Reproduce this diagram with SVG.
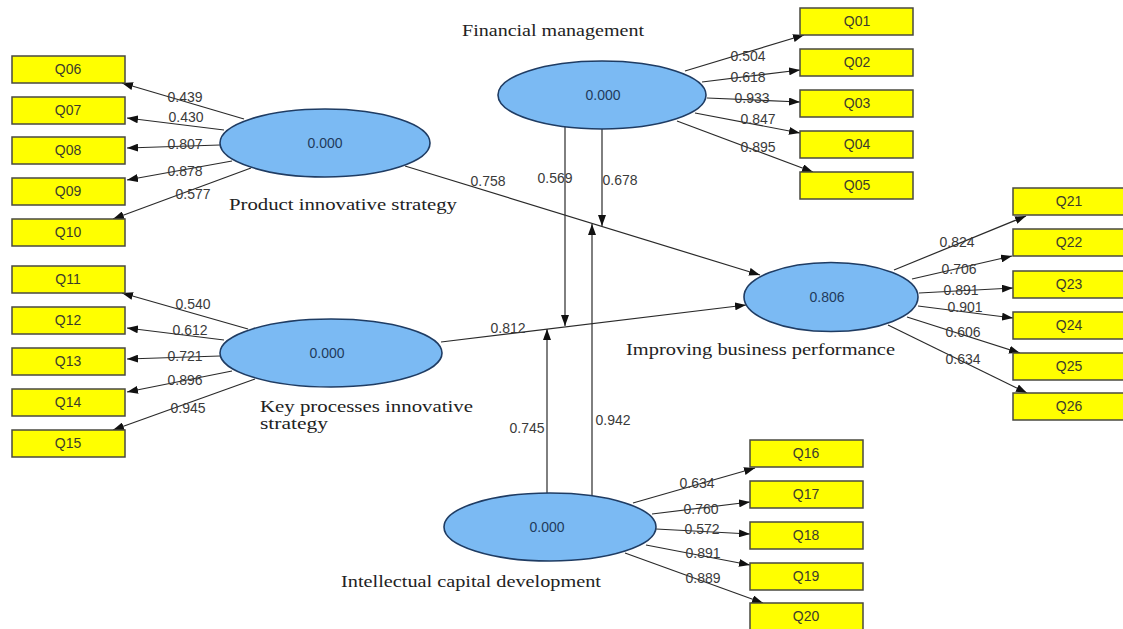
<svg xmlns="http://www.w3.org/2000/svg" width="1123" height="629" viewBox="0 0 1123 629">
<style>
.box{fill:#ffff00;stroke:#4a4a40;stroke-width:1.5}
.ql{font-family:"Liberation Sans",Arial,sans-serif;font-size:14px;fill:#3c3c2c;text-anchor:middle}
.ell{fill:#7bbaf3;stroke:#1f3c63;stroke-width:1.6}
.ev{font-family:"Liberation Sans",Arial,sans-serif;font-size:14px;fill:#1f3a5c;text-anchor:middle}
.nm{font-family:"Liberation Serif","Times New Roman",serif;font-size:16px;fill:#222}
.w{font-family:"Liberation Sans",Arial,sans-serif;font-size:14px;fill:#3a3a3a;text-anchor:middle}
.ln{stroke:#2a2a2a;stroke-width:1.2;fill:none;marker-end:url(#ah)}
</style>
<defs>
<marker id="ah" markerUnits="userSpaceOnUse" markerWidth="11" markerHeight="8" refX="11" refY="4" orient="auto">
<path d="M0,0 L11,4 L0,8 z" fill="#111"/>
</marker>
</defs>
<rect width="1123" height="629" fill="#ffffff"/>

<g id="connectors">
<!-- structural -->
<line class="ln" x1="405" y1="166" x2="760" y2="275"/>
<line class="ln" x1="441" y1="342" x2="746" y2="305"/>
<line class="ln" x1="565" y1="127" x2="565" y2="326"/>
<line class="ln" x1="602" y1="129" x2="602" y2="226"/>
<line class="ln" x1="547" y1="493" x2="547" y2="329"/>
<line class="ln" x1="592" y1="496" x2="592" y2="224"/>
<!-- product indicators -->
<line class="ln" x1="244" y1="119" x2="122" y2="83"/>
<line class="ln" x1="224" y1="130" x2="127" y2="118"/>
<line class="ln" x1="220" y1="145" x2="127" y2="148"/>
<line class="ln" x1="232" y1="161" x2="127" y2="180"/>
<line class="ln" x1="251" y1="168" x2="113" y2="219"/>
<!-- key indicators -->
<line class="ln" x1="248" y1="329" x2="122" y2="293"/>
<line class="ln" x1="224" y1="340" x2="127" y2="328"/>
<line class="ln" x1="220" y1="356" x2="127" y2="359"/>
<line class="ln" x1="232" y1="371" x2="127" y2="392"/>
<line class="ln" x1="255" y1="379" x2="113" y2="430"/>
<!-- financial indicators -->
<line class="ln" x1="685" y1="71" x2="804" y2="35"/>
<line class="ln" x1="702" y1="82" x2="800" y2="70"/>
<line class="ln" x1="707" y1="98" x2="800" y2="102"/>
<line class="ln" x1="695" y1="113" x2="800" y2="133"/>
<line class="ln" x1="677" y1="121" x2="813" y2="172"/>
<!-- improving indicators -->
<line class="ln" x1="894" y1="270" x2="1026" y2="216"/>
<line class="ln" x1="912" y1="279" x2="1012" y2="256"/>
<line class="ln" x1="919" y1="293" x2="1013" y2="288"/>
<line class="ln" x1="918" y1="306" x2="1013" y2="318"/>
<line class="ln" x1="907" y1="317" x2="1020" y2="353"/>
<line class="ln" x1="888" y1="325" x2="1027" y2="393"/>
<!-- intellectual indicators -->
<line class="ln" x1="633" y1="503" x2="755" y2="468"/>
<line class="ln" x1="652" y1="514" x2="750" y2="502"/>
<line class="ln" x1="656" y1="529" x2="750" y2="534"/>
<line class="ln" x1="646" y1="545" x2="750" y2="565"/>
<line class="ln" x1="625" y1="553" x2="763" y2="603"/>
<!-- weights -->
<text class="w" x="488" y="186">0.758</text>
<text class="w" x="508" y="333">0.812</text>
<text class="w" x="555" y="183">0.569</text>
<text class="w" x="620" y="185">0.678</text>
<text class="w" x="527" y="433">0.745</text>
<text class="w" x="613" y="425">0.942</text>
<text class="w" x="185" y="102">0.439</text>
<text class="w" x="186" y="122">0.430</text>
<text class="w" x="185" y="149">0.807</text>
<text class="w" x="185" y="176">0.878</text>
<text class="w" x="193" y="199">0.577</text>
<text class="w" x="193" y="309">0.540</text>
<text class="w" x="190" y="335">0.612</text>
<text class="w" x="185" y="361">0.721</text>
<text class="w" x="185" y="385">0.896</text>
<text class="w" x="188" y="413">0.945</text>
<text class="w" x="748" y="61">0.504</text>
<text class="w" x="748" y="82">0.618</text>
<text class="w" x="752" y="103">0.933</text>
<text class="w" x="758" y="124">0.847</text>
<text class="w" x="758" y="152">0.895</text>
<text class="w" x="957" y="247">0.824</text>
<text class="w" x="959" y="274">0.706</text>
<text class="w" x="961" y="295">0.891</text>
<text class="w" x="965" y="312">0.901</text>
<text class="w" x="963" y="337">0.606</text>
<text class="w" x="963" y="364">0.634</text>
<text class="w" x="697" y="488">0.634</text>
<text class="w" x="701" y="514">0.760</text>
<text class="w" x="702" y="534">0.572</text>
<text class="w" x="703" y="558">0.891</text>
<text class="w" x="703" y="583">0.889</text>
</g>

<g id="financial">
<ellipse class="ell" cx="602" cy="95" rx="104" ry="34"/>
<text class="ev" x="603" y="100">0.000</text>
<text class="nm" x="462" y="36" textLength="182" lengthAdjust="spacingAndGlyphs">Financial management</text>
</g>
<g id="product">
<ellipse class="ell" cx="325" cy="143" rx="105" ry="34"/>
<text class="ev" x="325" y="148">0.000</text>
<text class="nm" x="229" y="210" textLength="228" lengthAdjust="spacingAndGlyphs">Product innovative strategy</text>
</g>
<g id="keyprocesses">
<ellipse class="ell" cx="331" cy="353" rx="111" ry="34"/>
<text class="ev" x="327" y="358">0.000</text>
<text class="nm" x="260" y="412" textLength="213" lengthAdjust="spacingAndGlyphs">Key processes innovative</text>
<text class="nm" x="260" y="429" textLength="68" lengthAdjust="spacingAndGlyphs">strategy</text>
</g>
<g id="improving">
<ellipse class="ell" cx="831" cy="297" rx="87" ry="34.5"/>
<text class="ev" x="827" y="302">0.806</text>
<text class="nm" x="626" y="355" textLength="269" lengthAdjust="spacingAndGlyphs">Improving business performance</text>
</g>
<g id="intellectual">
<ellipse class="ell" cx="550" cy="527" rx="106" ry="34"/>
<text class="ev" x="547" y="532">0.000</text>
<text class="nm" x="341" y="587" textLength="260" lengthAdjust="spacingAndGlyphs">Intellectual capital development</text>
</g>

<g id="Q06"><rect class="box" x="12" y="56" width="113" height="27"/><text class="ql" x="68" y="74">Q06</text></g>
<g id="Q07"><rect class="box" x="12" y="97" width="113" height="27"/><text class="ql" x="68" y="115">Q07</text></g>
<g id="Q08"><rect class="box" x="12" y="137" width="113" height="27"/><text class="ql" x="68" y="155">Q08</text></g>
<g id="Q09"><rect class="box" x="12" y="178" width="113" height="27"/><text class="ql" x="68" y="196">Q09</text></g>
<g id="Q10"><rect class="box" x="12" y="219" width="113" height="27"/><text class="ql" x="68" y="237">Q10</text></g>
<g id="Q11"><rect class="box" x="12" y="266" width="113" height="27"/><text class="ql" x="68" y="284">Q11</text></g>
<g id="Q12"><rect class="box" x="12" y="307" width="113" height="27"/><text class="ql" x="68" y="325">Q12</text></g>
<g id="Q13"><rect class="box" x="12" y="348" width="113" height="27"/><text class="ql" x="68" y="366">Q13</text></g>
<g id="Q14"><rect class="box" x="12" y="389" width="113" height="27"/><text class="ql" x="68" y="407">Q14</text></g>
<g id="Q15"><rect class="box" x="12" y="430" width="113" height="27"/><text class="ql" x="68" y="448">Q15</text></g>
<g id="Q01"><rect class="box" x="800" y="8" width="113" height="27"/><text class="ql" x="857" y="26">Q01</text></g>
<g id="Q02"><rect class="box" x="800" y="49" width="113" height="27"/><text class="ql" x="857" y="67">Q02</text></g>
<g id="Q03"><rect class="box" x="800" y="90" width="113" height="27"/><text class="ql" x="857" y="108">Q03</text></g>
<g id="Q04"><rect class="box" x="800" y="131" width="113" height="27"/><text class="ql" x="857" y="149">Q04</text></g>
<g id="Q05"><rect class="box" x="800" y="172" width="113" height="27"/><text class="ql" x="857" y="190">Q05</text></g>
<g id="Q21"><rect class="box" x="1013" y="188" width="113" height="27"/><text class="ql" x="1069" y="206">Q21</text></g>
<g id="Q22"><rect class="box" x="1013" y="229" width="113" height="27"/><text class="ql" x="1069" y="247">Q22</text></g>
<g id="Q23"><rect class="box" x="1013" y="271" width="113" height="27"/><text class="ql" x="1069" y="289">Q23</text></g>
<g id="Q24"><rect class="box" x="1013" y="312" width="113" height="27"/><text class="ql" x="1069" y="330">Q24</text></g>
<g id="Q25"><rect class="box" x="1013" y="353" width="113" height="27"/><text class="ql" x="1069" y="371">Q25</text></g>
<g id="Q26"><rect class="box" x="1013" y="393" width="113" height="27"/><text class="ql" x="1069" y="411">Q26</text></g>
<g id="Q16"><rect class="box" x="750" y="440" width="113" height="27"/><text class="ql" x="806" y="458">Q16</text></g>
<g id="Q17"><rect class="box" x="750" y="481" width="113" height="27"/><text class="ql" x="806" y="499">Q17</text></g>
<g id="Q18"><rect class="box" x="750" y="522" width="113" height="27"/><text class="ql" x="806" y="540">Q18</text></g>
<g id="Q19"><rect class="box" x="750" y="563" width="113" height="27"/><text class="ql" x="806" y="581">Q19</text></g>
<g id="Q20"><rect class="box" x="750" y="603" width="113" height="27"/><text class="ql" x="806" y="621">Q20</text></g>
</svg>
